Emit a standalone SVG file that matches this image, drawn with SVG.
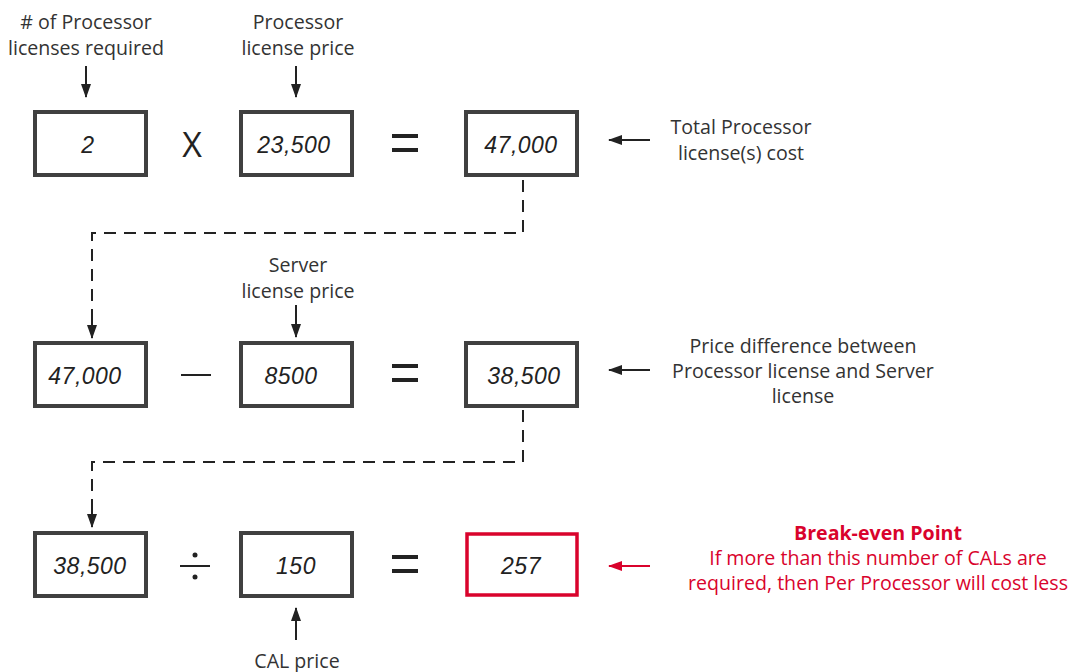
<svg xmlns="http://www.w3.org/2000/svg" width="1071" height="672" viewBox="0 0 1071 672">
<style>
.lbl{font-family:"Open Sans","Noto Sans",sans-serif;font-size:19.6px;fill:#333;text-anchor:middle}
.red{fill:#d9032c}
.num{font-family:"Liberation Sans",sans-serif;font-style:italic;font-size:23px;fill:#222;text-anchor:middle;letter-spacing:0.5px}
.box{fill:#fff;stroke:#404040;stroke-width:4}
.rbox{fill:#fff;stroke:#d9032c;stroke-width:3.5}
.op{font-family:"Open Sans","Noto Sans",sans-serif;font-size:34px;fill:#222;text-anchor:middle}
.eq{fill:#222}
.ar{stroke:#222;stroke-width:2;fill:none}
.dash{stroke:#222;stroke-width:2;fill:none;stroke-dasharray:12 8}
</style>
<defs>
<marker id="ah" viewBox="0 0 14 10" refX="13" refY="5" markerWidth="14" markerHeight="10" orient="auto" markerUnits="userSpaceOnUse"><path d="M0,0 L14,5 L0,10 Z" fill="#222"/></marker>
<marker id="ahr" viewBox="0 0 14 10" refX="13" refY="5" markerWidth="14" markerHeight="10" orient="auto" markerUnits="userSpaceOnUse"><path d="M0,0 L14,5 L0,10 Z" fill="#d9032c"/></marker>
</defs>
<g id="connectors">
<line class="ar" x1="86" y1="66" x2="86" y2="97" marker-end="url(#ah)"/>
<line class="ar" x1="296" y1="66" x2="296" y2="97" marker-end="url(#ah)"/>
<line class="ar" x1="650" y1="140" x2="609" y2="140" marker-end="url(#ah)"/>
<path class="dash" d="M523,180 V233 H92 V318"/>
<line class="ar" x1="92" y1="316" x2="92" y2="338" marker-end="url(#ah)"/>
<line class="ar" x1="296" y1="305" x2="296" y2="337" marker-end="url(#ah)"/>
<line class="ar" x1="650" y1="370" x2="609" y2="370" marker-end="url(#ah)"/>
<path class="dash" d="M523,410 V462 H92 V505"/>
<line class="ar" x1="92" y1="505" x2="92" y2="527" marker-end="url(#ah)"/>
<line class="ar" x1="296" y1="640" x2="296" y2="608" marker-end="url(#ah)"/>
<line x1="650" y1="566" x2="609" y2="566" stroke="#d9032c" stroke-width="2" marker-end="url(#ahr)"/>
</g>
<g id="label-proc-count"><text class="lbl" x="86" y="29">#&#160;of Processor</text><text class="lbl" x="86" y="55">licenses required</text></g>
<g id="label-proc-price"><text class="lbl" x="298" y="29">Processor</text><text class="lbl" x="298" y="55">license price</text></g>
<g id="box-2"><rect class="box" x="35" y="112" width="111" height="63"/><text class="num" x="88" y="153">2</text></g>
<g id="op-x"><text class="op" x="192" y="157" font-size="32">X</text></g>
<g id="box-23500"><rect class="box" x="241" y="112" width="111" height="63"/><text class="num" x="294" y="153">23,500</text></g>
<g id="op-eq1"><rect class="eq" x="392" y="134" width="26" height="4"/><rect class="eq" x="392" y="148" width="26" height="4"/></g>
<g id="box-47000a"><rect class="box" x="466" y="112" width="111" height="63"/><text class="num" x="521" y="153">47,000</text></g>
<g id="label-total"><text class="lbl" x="741" y="134">Total Processor</text><text class="lbl" x="741" y="160">license(s) cost</text></g>
<g id="label-server-price"><text class="lbl" x="298" y="272">Server</text><text class="lbl" x="298" y="298">license price</text></g>
<g id="box-47000b"><rect class="box" x="35" y="343" width="111" height="63"/><text class="num" x="85" y="384">47,000</text></g>
<g id="op-minus"><line x1="181" y1="375" x2="211" y2="375" stroke="#222" stroke-width="2"/></g>
<g id="box-8500"><rect class="box" x="241" y="343" width="111" height="63"/><text class="num" x="291" y="384">8500</text></g>
<g id="op-eq2"><rect class="eq" x="392" y="364" width="26" height="4"/><rect class="eq" x="392" y="378" width="26" height="4"/></g>
<g id="box-38500a"><rect class="box" x="466" y="343" width="111" height="63"/><text class="num" x="524" y="384">38,500</text></g>
<g id="label-diff"><text class="lbl" x="803" y="353">Price difference between</text><text class="lbl" x="803" y="378">Processor license and Server</text><text class="lbl" x="803" y="403">license</text></g>
<g id="box-38500b"><rect class="box" x="35" y="533" width="111" height="63"/><text class="num" x="90" y="574">38,500</text></g>
<g id="op-div"><line x1="180" y1="566" x2="210" y2="566" stroke="#222" stroke-width="2"/><circle cx="195" cy="555" r="2.5" fill="#222"/><circle cx="195" cy="577" r="2.5" fill="#222"/></g>
<g id="box-150"><rect class="box" x="241" y="533" width="111" height="63"/><text class="num" x="296" y="574">150</text></g>
<g id="op-eq3"><rect class="eq" x="392" y="555" width="26" height="4"/><rect class="eq" x="392" y="569" width="26" height="4"/></g>
<g id="box-257"><rect class="rbox" x="467" y="534" width="110" height="61"/><text class="num" x="521" y="574">257</text></g>
<g id="label-cal"><text class="lbl" x="297" y="668">CAL price</text></g>
<g id="label-breakeven"><text class="lbl red" x="878" y="540" font-weight="bold">Break-even Point</text><text class="lbl red" x="878" y="565">If more than this number of CALs are</text><text class="lbl red" x="878" y="590">required, then Per Processor will cost less</text></g>
</svg>
